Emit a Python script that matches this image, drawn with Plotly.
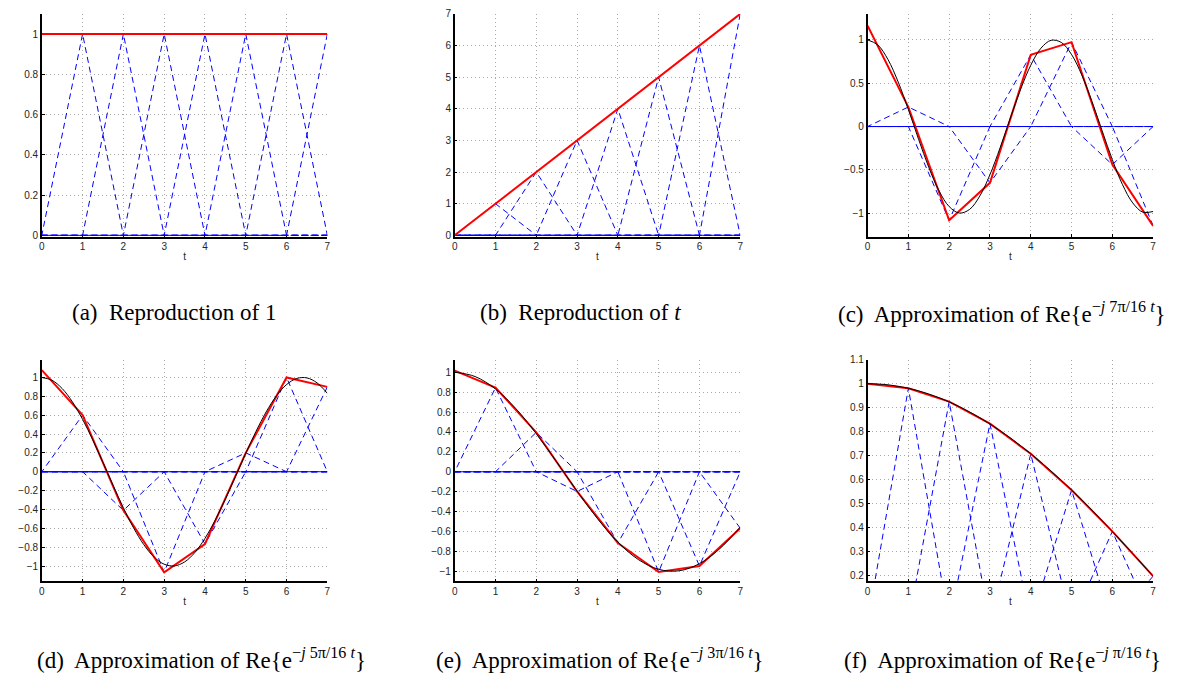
import plotly.graph_objects as go
from plotly.subplots import make_subplots

# knot positions of the linear B-splines (hat functions)
knots = [0, 1, 2, 3, 4, 5, 6, 7]

# hat coefficients
coef_a = [1, 1, 1, 1, 1, 1, 1, 1]
coef_b = [0, 1, 2, 3, 4, 5, 6, 7]
coef_c = [1.165, 0.225, -1.083, -0.65, 0.827, 0.974, -0.44, -1.147]
coef_d = [1.077, 0.60, -0.41, -1.066, -0.766, 0.20, 1.0, 0.90]
coef_e = [1.016, 0.845, 0.396, -0.198, -0.716, -1.007, -0.947, -0.568]
coef_f = [1.0, 0.981, 0.925, 0.833, 0.707, 0.556, 0.383, 0.196]

# samples of the target (black) curves
t_quarter = [0, 0.25, 0.5, 0.75, 1, 1.25, 1.5, 1.75, 2, 2.25, 2.5, 2.75, 3, 3.25, 3.5,
             3.75, 4, 4.25, 4.5, 4.75, 5, 5.25, 5.5, 5.75, 6, 6.25, 6.5, 6.75, 7]
t_half = [0, 0.5, 1, 1.5, 2, 2.5, 3, 3.5, 4, 4.5, 5, 5.5, 6, 6.5, 7]

true_c = [1.0, 0.9415, 0.7730, 0.5141, 0.1951, -0.1467, -0.4714, -0.7410, -0.9239,
          -0.9988, -0.9569, -0.8032, -0.5556, -0.2430, 0.0980, 0.4276, 0.7071, 0.9040,
          0.9952, 0.9700, 0.8315, 0.5957, 0.2903, -0.0490, -0.3827, -0.6716, -0.8819,
          -0.9892, -0.9808]
true_d = [1.0, 0.9700, 0.8819, 0.7410, 0.5556, 0.3369, 0.0980, -0.1467, -0.3827,
          -0.5957, -0.7730, -0.9040, -0.9808, -0.9988, -0.9569, -0.8577, -0.7071,
          -0.5141, -0.2903, -0.0490, 0.1951, 0.4276, 0.6344, 0.8032, 0.9239, 0.9892,
          0.9952, 0.9415, 0.8315]
true_e = [1.0, 0.9569, 0.8315, 0.6344, 0.3827, 0.0980, -0.1951, -0.4714, -0.7071,
          -0.8819, -0.9808, -0.9952, -0.9239, -0.7730, -0.5556]
true_f = [1.0, 0.9952, 0.9808, 0.9569, 0.9239, 0.8819, 0.8315, 0.7730, 0.7071,
          0.6344, 0.5556, 0.4714, 0.3827, 0.2903, 0.1951]

panels = [
    dict(coef=coef_a, tx=None, ty=None, yrange=[-0.006, 1.1], dtick=0.2,
         cap="(a)  Reproduction of 1"),
    dict(coef=coef_b, tx=None, ty=None, yrange=[-0.04, 7], dtick=1,
         cap="(b)  Reproduction of <i>t</i>"),
    dict(coef=coef_c, tx=t_quarter, ty=true_c, yrange=[-1.27, 1.3], dtick=0.5,
         cap="(c)  Approximation of Re{e<sup>−<i>j</i> 7π/16 <i>t</i></sup>}"),
    dict(coef=coef_d, tx=t_quarter, ty=true_d, yrange=[-1.163, 1.188], dtick=0.2,
         cap="(d)  Approximation of Re{e<sup>−<i>j</i> 5π/16 <i>t</i></sup>}"),
    dict(coef=coef_e, tx=t_half, ty=true_e, yrange=[-1.102, 1.126], dtick=0.2,
         cap="(e)  Approximation of Re{e<sup>−<i>j</i> 3π/16 <i>t</i></sup>}"),
    dict(coef=coef_f, tx=t_half, ty=true_f, yrange=[0.174, 1.1], dtick=0.1,
         cap="(f)  Approximation of Re{e<sup>−<i>j</i> π/16 <i>t</i></sup>}"),
]

W, H = 1181, 679
x_px = [(39, 326), (454, 741), (869, 1156)]
y_px = [(8, 234), (359, 584)]
cap_pos = [(172, 311), (580, 311), (1004, 311), (200, 662), (600, 662), (1005, 662)]

fig = make_subplots(rows=2, cols=3)

for i, p in enumerate(panels):
    row, col = i // 3 + 1, i % 3 + 1
    lo, hi = knots[0], knots[-1]
    # one dashed hat per coefficient
    for k, c in zip(knots, p['coef']):
        xs = [lo, k - 1, k, k + 1, hi]
        ys = [0, 0, c, 0, 0]
        pts = []
        for x, y in zip(xs, ys):
            if lo <= x <= hi and (not pts or pts[-1][0] != x):
                pts.append((x, y))
        if k % 2:
            pts = pts[::-1]   # shift dash phase so the zero line looks fuller
        fig.add_trace(go.Scatter(
            x=[q[0] for q in pts], y=[q[1] for q in pts],
            mode='lines', line=dict(color='#0000ff', width=1, dash='6px,4px'),
            showlegend=False, hoverinfo='skip'
        ), row=row, col=col)
    # sum of hats
    fig.add_trace(go.Scatter(
        x=knots, y=p['coef'], mode='lines',
        line=dict(color='#ff0000', width=2), showlegend=False
    ), row=row, col=col)
    # target curve
    if p['tx'] is not None:
        fig.add_trace(go.Scatter(
            x=p['tx'], y=p['ty'], mode='lines',
            line=dict(color='black', width=1, shape='spline'), showlegend=False
        ), row=row, col=col)

    x0, x1 = x_px[col - 1]
    y0, y1 = y_px[row - 1]
    axis_common = dict(
        showline=True, linecolor='black', linewidth=1.5, mirror=False,
        ticks='inside', ticklen=3, tickcolor='black', layer='below traces',
        showgrid=True, gridcolor='#a8a8a8', griddash='1px,3px', gridwidth=1,
        zeroline=False,
        tickfont=dict(family='Liberation Sans, Arial', size=10, color='#262626'),
    )
    fig.update_xaxes(domain=[x0 / W, x1 / W], range=[0, 7], dtick=1, tick0=0,
                     title=dict(text='t', font=dict(family='Liberation Sans, Arial',
                                                    size=10, color='#262626'),
                                standoff=2),
                     row=row, col=col, **axis_common)
    fig.update_yaxes(domain=[1 - y1 / H, 1 - y0 / H], range=p['yrange'],
                     dtick=p['dtick'], tick0=0, row=row, col=col, **axis_common)

    cx, cy = cap_pos[i]
    fig.add_annotation(
        text=p['cap'], x=cx / W, y=1 - cy / H, xref='paper', yref='paper',
        xanchor='center', yanchor='middle', showarrow=False,
        font=dict(family='Liberation Serif, Times New Roman', size=23, color='black')
    )

fig.update_layout(
    width=W, height=H,
    margin=dict(l=0, r=0, t=0, b=0),
    paper_bgcolor='white', plot_bgcolor='white',
)

fig.write_html("out.html", config={'displayModeBar': False},
               post_script="document.body.style.margin='0';")
